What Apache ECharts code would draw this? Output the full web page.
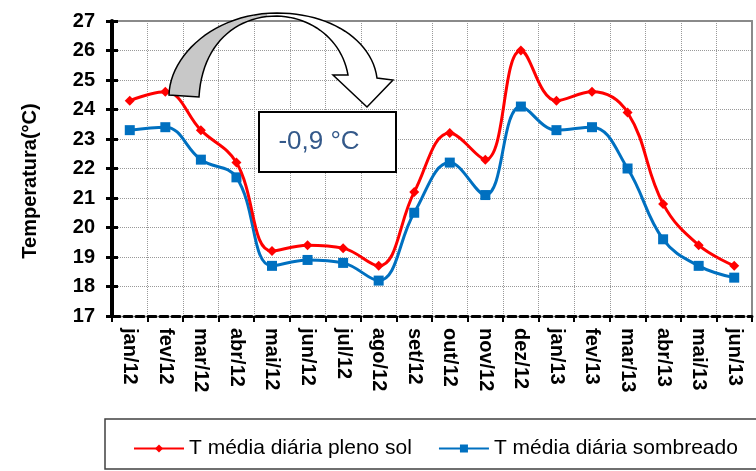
<!DOCTYPE html>
<html>
<head>
<meta charset="utf-8">
<style>
  html, body { margin: 0; padding: 0; background: #ffffff; }
  #chart { width: 756px; height: 471px; }
</style>
<script src="https://cdn.jsdelivr.net/npm/echarts@6/dist/echarts.min.js"></script>
</head>
<body>
<div id="chart"></div>
<script>
// Monthly categories (Jan/2012 – Jun/2013)
const months = ['jan/12', 'fev/12', 'mar/12', 'abr/12', 'mai/12', 'jun/12', 'jul/12', 'ago/12', 'set/12',
  'out/12', 'nov/12', 'dez/12', 'jan/13', 'fev/13', 'mar/13', 'abr/13', 'mai/13', 'jun/13'];

// Mean daily temperature (°C), full sun
const tFullSun = [24.3, 24.6, 23.3, 22.2, 19.2, 19.4, 19.3, 18.7, 21.2, 23.2, 22.3, 26.0, 24.3, 24.6, 23.9, 20.8, 19.4, 18.7];

// Mean daily temperature (°C), shaded
const tShaded = [23.3, 23.4, 22.3, 21.7, 18.7, 18.9, 18.8, 18.2, 20.5, 22.2, 21.1, 24.1, 23.3, 23.4, 22.0, 19.6, 18.7, 18.3];

const seriesNames = ['T média diária pleno sol', 'T média diária sombreado'];
const yMin = 17, yMax = 27, yStep = 1;
const diffLabel = '-0,9 °C';

const FONT = '"Liberation Sans", Arial, sans-serif';

// Sample a cubic Bezier segment into polygon points
function cubic(p0, p1, p2, p3, n) {
  const pts = [];
  for (let i = 0; i <= n; i++) {
    const t = i / n, u = 1 - t;
    pts.push([
      u * u * u * p0[0] + 3 * u * u * t * p1[0] + 3 * u * t * t * p2[0] + t * t * t * p3[0],
      u * u * u * p0[1] + 3 * u * u * t * p1[1] + 3 * u * t * t * p2[1] + t * t * t * p3[1]
    ]);
  }
  return pts;
}

// Outline of the curved call-out arrow
const arrowPts = [].concat(
  cubic([169, 95], [170, 55], [215, 13], [277, 13], 24),
  cubic([277, 13], [330, 13], [372, 40], [377, 78], 24),
  [[393, 80], [367, 107], [333, 75], [348, 75]],
  cubic([348, 75], [342, 40], [312, 17], [277, 16], 24),
  cubic([277, 16], [235, 16], [202, 45], [199, 97], 24)
);

const chart = echarts.init(document.getElementById('chart'), null, { renderer: 'canvas' });

const option = {
  animation: false,
  backgroundColor: '#ffffff',
  grid: { left: 112, right: 4, top: 21, bottom: 155, containLabel: false },
  xAxis: [
    {
      type: 'category',
      data: months,
      boundaryGap: true,
      position: 'bottom',
      axisLine: { show: true, lineStyle: { color: '#000', width: 3, type: [8, 4] } },
      axisTick: { show: true, alignWithLabel: false, length: 6, inside: false, lineStyle: { color: '#000', width: 2 } },
      axisLabel: { interval: 0, rotate: -90, margin: 12, color: '#000', fontSize: 20, fontWeight: 'bold', fontFamily: FONT },
      splitLine: { show: true, interval: 0, lineStyle: { color: '#999', width: 1, type: 'dotted' } }
    },
    {
      type: 'category',
      data: months,
      position: 'top',
      axisLine: { show: true, lineStyle: { color: '#8a8a8a', width: 2 } },
      axisTick: { show: false },
      axisLabel: { show: false },
      splitLine: { show: false }
    }
  ],
  yAxis: [
    {
      type: 'value',
      min: yMin, max: yMax, interval: yStep,
      position: 'left',
      axisLine: { show: true, lineStyle: { color: '#000', width: 4 } },
      axisTick: { show: true, length: 6, lineStyle: { color: '#000', width: 3 } },
      axisLabel: { color: '#000', fontSize: 20, fontWeight: 'bold', fontFamily: FONT, margin: 17 },
      splitLine: { show: true, lineStyle: { color: '#999', width: 1, type: 'dotted' } }
    },
    {
      // inward half of the crossing tick marks
      type: 'value',
      min: yMin, max: yMax, interval: yStep,
      position: 'left',
      axisLine: { show: false },
      axisTick: { show: true, inside: true, length: 6, lineStyle: { color: '#000', width: 3 } },
      axisLabel: { show: false },
      splitLine: { show: false }
    },
    {
      type: 'value',
      min: yMin, max: yMax, interval: yStep,
      position: 'right',
      axisLine: { show: true, lineStyle: { color: '#8a8a8a', width: 2 } },
      axisTick: { show: false },
      axisLabel: { show: false },
      splitLine: { show: false }
    }
  ],
  legend: {
    show: true,
    left: 128,
    top: 433,
    itemWidth: 50,
    itemHeight: 10,
    itemGap: 26,
    textStyle: { color: '#000', fontSize: 21, fontFamily: FONT },
    data: seriesNames
  },
  series: [
    {
      name: seriesNames[0],
      type: 'line',
      data: tFullSun,
      smooth: 0.4,
      symbol: 'diamond',
      symbolSize: 10,
      lineStyle: { color: '#ff0000', width: 3 },
      itemStyle: { color: '#ff0000' },
      z: 3
    },
    {
      name: seriesNames[1],
      type: 'line',
      data: tShaded,
      smooth: 0.4,
      symbol: 'rect',
      symbolSize: 10,
      lineStyle: { color: '#0070c0', width: 3 },
      itemStyle: { color: '#0070c0' },
      z: 2
    }
  ],
  graphic: [
    {
      type: 'text',
      x: 30, y: 181,
      rotation: Math.PI / 2,
      z: 10,
      style: { text: 'Temperatura(°C)', fill: '#000', font: 'bold 20px ' + FONT, align: 'center', verticalAlign: 'middle' }
    },
    {
      type: 'polygon',
      z: 100,
      shape: { points: arrowPts },
      style: {
        fill: new echarts.graphic.LinearGradient(0, 0, 1, 0, [
          { offset: 0, color: '#c8c8c8' },
          { offset: 0.44, color: '#c8c8c8' },
          { offset: 0.44, color: '#ffffff' },
          { offset: 1, color: '#ffffff' }
        ]),
        stroke: '#000',
        lineWidth: 1.5
      }
    },
    {
      type: 'rect',
      z: 100,
      shape: { x: 259, y: 112, width: 137, height: 60 },
      style: { fill: '#ffffff', stroke: '#000', lineWidth: 2 }
    },
    {
      type: 'text',
      z: 101,
      x: 319, y: 142,
      style: { text: diffLabel, fill: '#34598a', font: '26px ' + FONT, align: 'center', verticalAlign: 'middle' }
    },
    {
      // legend frame
      type: 'rect',
      z: 1,
      shape: { x: 105, y: 419, width: 660, height: 50 },
      style: { fill: 'none', stroke: '#404040', lineWidth: 1.5 }
    }
  ]
};

chart.setOption(option);
</script>
</body>
</html>
